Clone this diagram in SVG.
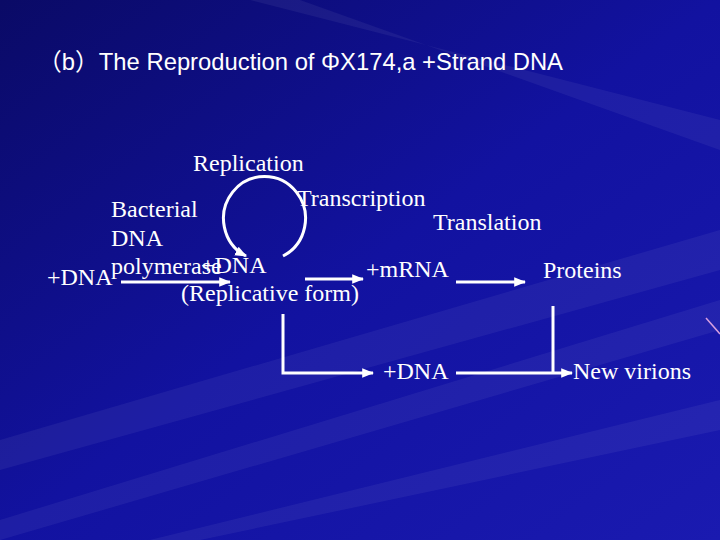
<svg xmlns="http://www.w3.org/2000/svg" width="720" height="540" viewBox="0 0 720 540">
<defs>
<linearGradient id="bg" x1="0" y1="0" x2="1" y2="1">
<stop offset="0" stop-color="#0a0a66"/>
<stop offset="0.5" stop-color="#1212a0"/>
<stop offset="1" stop-color="#1a1ab0"/>
</linearGradient>
<marker id="ah" viewBox="0 0 10 10" refX="9" refY="5" markerWidth="4" markerHeight="4" orient="auto" markerUnits="strokeWidth">
<path d="M0,1 L10,5 L0,9 z" fill="#fff"/>
</marker>
<style>
.t{font-family:"Liberation Serif","Times New Roman",serif;font-size:24px;fill:#fff}
.h{font-family:"Liberation Sans",Arial,"Noto Sans CJK SC",sans-serif;font-size:24px;fill:#fff}
.c{stroke:#fff;stroke-width:3;fill:none}
</style>
</defs>
<rect width="720" height="540" fill="url(#bg)"/>
<g fill="#ffffff" opacity="0.05">
<polygon points="720,230 720,270 0,470 0,440"/>
<polygon points="720,300 720,330 0,540 0,520"/>
<polygon points="720,120 720,150 300,0 250,0"/>
<polygon points="720,400 720,430 200,540 150,540"/>
</g>
<line x1="706" y1="318" x2="720" y2="334" stroke="#d8a0e0" stroke-width="1.5"/>
<text class="h" x="38" y="70" textLength="525" lengthAdjust="spacingAndGlyphs">（b）The Reproduction of ΦX174,a +Strand DNA</text>
<g id="replication"><text class="t" x="193" y="171">Replication</text></g>
<g id="transcription"><text class="t" x="297" y="206">Transcription</text></g>
<g id="bacterial"><text class="t" x="111" y="217">Bacterial</text><text class="t" x="111" y="246">DNA</text><text class="t" x="111" y="274">polymerase</text></g>
<g id="translation"><text class="t" x="433" y="230">Translation</text></g>
<g id="dna-in"><text class="t" x="47" y="285">+DNA</text></g>
<g id="rf"><text class="t" x="201" y="273">+DNA</text><text class="t" x="181" y="301">(Replicative form)</text></g>
<g id="mrna"><text class="t" x="366" y="277">+mRNA</text></g>
<g id="proteins"><text class="t" x="543" y="278">Proteins</text></g>
<g id="dna-out"><text class="t" x="383" y="379">+DNA</text></g>
<g id="virions"><text class="t" x="573" y="379">New virions</text></g>
<g id="connectors">
<path class="c" d="M121,282 H230" marker-end="url(#ah)"/>
<path class="c" d="M283,256 A41,42 0 1 0 246,256" marker-end="url(#ah)"/>
<path class="c" d="M305,279 H363" marker-end="url(#ah)"/>
<path class="c" d="M456,282 H525" marker-end="url(#ah)"/>
<path class="c" d="M283,314 V373 H373" marker-end="url(#ah)"/>
<path class="c" d="M456,373 H572" marker-end="url(#ah)"/>
<path class="c" d="M553,306 V373"/>
</g>
</svg>
